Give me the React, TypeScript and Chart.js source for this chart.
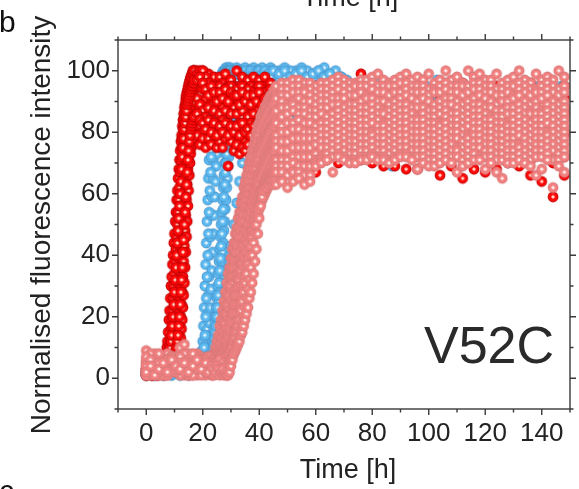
import React, { useEffect, useRef } from 'react';
import { Chart, registerables } from 'chart.js';

Chart.register(...registerables);

const FONT = '"Liberation Sans", Arial, Helvetica, sans-serif';

// ---------- axes / text ----------
const xMin = -10;
const xMax = 150;
const yMin = -10;
const yMax = 110;
const tickStep = 10;
const labelStep = 20;
const xLabelMax = 140;
const yLabelMax = 100;
const xTitle = 'Time [h]';
const yTitle = 'Normalised fluorescence intensity';
const panelName = 'V52C';
const panelLetter = 'b';
const nextPanelLetter = 'c';

// ---------- red replicates (time grid + traces) ----------
const redTimes = [
  0, 2, 4, 6,
  6.5, 6.75, 7, 7.25, 7.5, 7.75, 8, 8.25, 8.5, 8.75, 9,
  9.25, 9.5, 9.75, 10, 10.25, 10.5, 10.75, 11, 11.25, 11.5, 11.75,
  12, 12.25, 12.5, 12.75, 13, 13.25, 13.5, 13.75, 14, 14.25, 14.5,
  14.75, 15, 15.25, 15.5, 15.75, 16, 16.25, 16.5, 16.75, 17,
  18, 19, 20, 21, 22, 23, 24, 25, 26, 27, 28, 29, 30, 31,
  32, 33, 34, 35, 36, 37, 38, 39, 40, 41, 42, 43, 44,
  48, 52, 56, 60, 64, 68, 72, 76, 80, 84, 88, 92, 96,
  100, 104, 108, 112, 116, 120, 124, 128, 132, 136, 140, 144, 148,
];
const redTrace1 = [
  2, 1, 3, 2,
  4, 6, 8, 10, 12, 15, 19, 22, 26, 30, 33,
  37, 40, 44, 47, 51, 54, 58, 61, 65, 68, 71,
  74, 77, 79, 82, 84, 86, 88, 89, 91, 92, 93,
  94, 95, 96, 97, 97, 98, 99, 99, 100, 100,
  100, 98, 100, 97, 99, 96, 98, 95, 98, 96, 99, 95, 97, 95,
  100, 95, 98, 94, 97, 95, 98, 94, 97, 95, 98, 94, 96,
  94, 95, 93, 95, 94, 96, 93, 99, 95, 94, 93, 95, 94,
  93, 95, 94, 96, 93, 94, 95, 93, 94, 96, 93, 94, 95,
];
const redTrace2 = [
  1, 3, 2, 4,
  3, 5, 4, 6, 5, 7, 9, 11, 13, 16, 19,
  22, 26, 30, 34, 38, 42, 46, 50, 54, 58, 62,
  67, 71, 75, 78, 81, 84, 86, 88, 90, 92, 93,
  94, 95, 96, 97, 98, 98, 99, 100, 99, 100,
  99, 100, 100, 98, 96, 93, 95, 92, 95, 91, 94, 92, 95, 91,
  94, 91, 95, 92, 94, 90, 93, 91, 95, 90, 93, 92, 94,
  91, 92, 90, 93, 91, 92, 90, 91, 93, 92, 90, 91, 92,
  90, 92, 91, 93, 90, 91, 92, 90, 91, 93, 90, 92, 91,
];
const redTrace3 = [
  3, 2, 1, 3,
  2, 4, 3, 5, 4, 6, 5, 7, 6, 8, 9,
  11, 13, 16, 19, 23, 27, 31, 35, 39, 43, 47,
  52, 56, 60, 64, 68, 72, 75, 78, 81, 83, 85,
  87, 88, 89, 90, 91, 92, 92, 93, 94, 94,
  95, 96, 94, 91, 93, 89, 91, 87, 90, 88, 91, 87, 90, 88,
  91, 87, 90, 88, 91, 86, 89, 87, 90, 86, 89, 88, 90,
  88, 87, 89, 86, 88, 87, 89, 88, 86, 87, 88, 86, 87,
  88, 86, 87, 89, 86, 88, 87, 86, 88, 87, 85, 87, 86,
];
const redTrace4 = [
  2, 3, 1, 2,
  3, 2, 4, 3, 5, 4, 3, 5, 4, 6, 5,
  6, 7, 6, 8, 9, 11, 12, 15, 18, 21, 25,
  29, 33, 37, 42, 46, 51, 56, 61, 66, 70, 74,
  77, 80, 82, 84, 86, 87, 88, 89, 90, 90,
  91, 89, 87, 85, 88, 84, 87, 83, 86, 84, 87, 83, 86, 82,
  86, 83, 87, 82, 85, 83, 86, 82, 85, 83, 86, 82, 84,
  83, 82, 84, 81, 83, 82, 80, 83, 82, 81, 83, 82, 80,
  82, 81, 83, 80, 82, 81, 83, 80, 82, 81, 79, 82, 80,
];
const redTrace5 = [
  1, 2, 3, 2,
  2, 3, 4, 2, 3, 5, 4, 3, 5, 4, 6,
  5, 4, 6, 5, 7, 6, 8, 9, 10, 12, 14,
  17, 20, 24, 28, 33, 38, 43, 48, 53, 58, 63,
  68, 72, 75, 77, 79, 80, 81, 82, 83, 82,
  84, 82, 80, 83, 79, 82, 80, 78, 82, 79, 81, 78, 81, 79,
  80, 78, 81, 77, 80, 78, 81, 77, 79, 78, 80, 76, 79,
  78, 77, 79, 76, 77, 75, 78, 74, 76, 73, 75, 74, 76,
  73, 75, 74, 72, 74, 73, 75, 72, 74, 71, 73, 70, 72,
];
const redTrace6 = [
  2, 1, 2, 3,
  1, 3, 2, 4, 3, 2, 4, 3, 5, 4, 3,
  5, 4, 6, 5, 4, 6, 5, 7, 6, 8, 9,
  11, 13, 16, 19, 23, 27, 31, 36, 41, 46, 51,
  56, 61, 66, 70, 73, 75, 76, 77, 78, 78,
  79, 76, 78, 75, 78, 76, 79, 75, 77, 75, 78, 69, 77, 74,
  76, 73, 75, 74, 76, 72, 75, 73, 74, 72, 75, 72, 74,
  74, 72, 70, 67, 71, 70, 72, 71, 70, 69, 69, 68, 68,
  70, 66, 69, 65, 68, 67, 68, 70, 69, 66, 64, 59, 66,
];
const redTrace7 = [
  1, 2, 4, 2,
  3, 2, 4, 5, 4, 6, 7, 8, 10, 12, 14,
  17, 20, 24, 28, 32, 36, 40, 44, 48, 52, 56,
  60, 64, 68, 72, 75, 78, 81, 83, 85, 87, 89,
  90, 91, 92, 93, 94, 95, 95, 96, 96, 97,
  97, 98, 96, 94, 92, 95, 93, 90, 93, 91, 94, 90, 93, 92,
  92, 89, 93, 90, 92, 89, 92, 90, 93, 89, 91, 90, 92,
  89, 90, 88, 91, 89, 90, 88, 89, 91, 90, 88, 89, 90,
  89, 88, 90, 89, 91, 88, 90, 89, 88, 90, 89, 91, 88,
];
const redTrace8 = [
  3, 1, 2, 3,
  2, 4, 3, 2, 4, 3, 5, 4, 6, 5, 4,
  6, 5, 7, 6, 8, 9, 10, 12, 14, 17, 20,
  24, 28, 32, 36, 41, 45, 50, 54, 59, 63, 67,
  71, 74, 77, 79, 81, 82, 83, 84, 85, 85,
  86, 84, 83, 81, 84, 80, 83, 79, 82, 80, 83, 79, 82, 80,
  82, 79, 83, 80, 81, 79, 82, 80, 83, 78, 81, 80, 82,
  81, 79, 80, 78, 81, 79, 80, 77, 79, 78, 80, 77, 79,
  78, 80, 77, 79, 78, 76, 79, 77, 78, 76, 78, 77, 79,
];

// ---------- blue replicates ----------
const blueTimes = [
  0, 3, 6, 9, 12, 15, 17, 18, 19,
  19.5, 19.75, 20, 20.25, 20.5, 20.75, 21, 21.25, 21.5, 21.75, 22,
  22.25, 22.5, 22.75, 23, 23.25, 23.5, 23.75, 24, 24.25, 24.5, 24.75,
  25, 25.25, 25.5, 25.75, 26, 26.25, 26.5, 26.75, 27, 27.25, 27.5,
  27.75, 28, 28.25, 28.5, 28.75, 29, 29.25, 29.5, 29.75, 30,
  31, 32, 33, 34, 35, 36, 37, 38, 39, 40, 41, 42, 43, 44, 45,
  47, 49, 51, 53, 55, 57, 59, 61, 63, 65, 67, 69, 71,
  75, 79, 83, 87, 91, 95, 99, 103, 107, 111, 115, 119, 123, 127, 131, 135, 139, 143, 147,
];
const blueTrace1 = [
  2, 3, 1, 2, 3, 2, 4, 3, 5,
  7, 9, 12, 17, 23, 30, 37, 44, 51, 58, 65,
  71, 76, 80, 83, 86, 88, 90, 91, 92, 93, 94,
  95, 95, 96, 97, 97, 98, 98, 99, 99, 100, 99,
  100, 100, 101, 100, 100, 101, 100, 100, 101, 100,
  100, 101, 100, 100, 101, 100, 99, 101, 100, 100, 101, 99, 100, 101, 100,
  100, 101, 99, 100, 101, 100, 99, 100, 101, 99, 100, 98, 97,
  96, 97, 95, 96, 94, 96, 95, 97, 96, 94, 95, 96, 94, 95, 96, 94, 95, 93, 95,
];
const blueTrace2 = [
  1, 2, 3, 1, 2, 4, 3, 2, 4,
  3, 5, 4, 6, 5, 7, 9, 12, 16, 21, 27,
  33, 40, 46, 53, 59, 65, 71, 76, 80, 84, 87,
  89, 91, 92, 93, 94, 95, 96, 96, 97, 97, 98,
  98, 99, 98, 99, 99, 100, 99, 98, 99, 100,
  99, 98, 100, 99, 98, 99, 100, 98, 99, 100, 98, 99, 98, 100, 99,
  98, 99, 100, 98, 99, 97, 98, 99, 97, 98, 96, 97, 95,
  94, 93, 95, 92, 94, 93, 91, 93, 92, 94, 93, 91, 92, 90, 92, 93, 91, 92, 90,
];
const blueTrace3 = [
  2, 1, 3, 2, 1, 3, 2, 4, 3,
  4, 3, 5, 4, 6, 5, 4, 6, 7, 9, 11,
  14, 18, 23, 29, 35, 41, 47, 53, 59, 64, 69,
  73, 77, 80, 83, 85, 87, 89, 90, 91, 92, 93,
  94, 94, 95, 96, 96, 97, 97, 98, 97, 98,
  98, 97, 99, 98, 97, 98, 99, 97, 98, 96, 98, 97, 99, 98, 97,
  97, 98, 96, 97, 98, 96, 97, 95, 96, 97, 95, 96, 94,
  93, 94, 92, 93, 91, 92, 94, 91, 93, 92, 90, 92, 91, 93, 90, 91, 92, 89, 91,
];
const blueTrace4 = [
  1, 3, 2, 1, 2, 3, 2, 3, 4,
  3, 5, 4, 3, 5, 4, 6, 5, 4, 6, 5,
  7, 6, 8, 9, 11, 12, 14, 16, 18, 20, 23,
  26, 30, 34, 38, 42, 46, 50, 54, 58, 62, 66,
  70, 73, 76, 79, 81, 83, 85, 86, 87, 88,
  90, 92, 93, 94, 95, 94, 96, 95, 94, 96, 95, 94, 96, 95, 94,
  95, 93, 94, 96, 94, 95, 93, 94, 92, 94, 93, 92, 93,
  91, 92, 90, 89, 91, 90, 88, 90, 89, 91, 88, 90, 89, 87, 89, 88, 90, 87, 89,
];
const blueTrace5 = [
  2, 1, 2, 3, 1, 2, 3, 4, 3,
  4, 3, 5, 4, 3, 5, 4, 6, 5, 4, 6,
  5, 7, 6, 8, 7, 9, 8, 10, 11, 12, 14,
  16, 19, 22, 25, 28, 31, 35, 38, 41, 44, 48,
  51, 55, 58, 62, 65, 69, 72, 75, 78, 80,
  85, 88, 90, 91, 92, 93, 92, 94, 93, 92, 94, 93, 92, 93, 91,
  92, 90, 91, 93, 91, 90, 92, 89, 91, 90, 88, 90, 89,
  88, 87, 89, 86, 87, 86, 85, 88, 86, 87, 85, 86, 84, 86, 85, 83, 85, 84, 86,
];
const blueTrace6 = [
  1, 2, 3, 2, 4, 3, 2, 3, 4,
  3, 4, 5, 3, 4, 6, 5, 4, 6, 5, 7,
  6, 5, 7, 6, 8, 7, 9, 8, 10, 9, 11,
  9, 10, 11, 12, 13, 14, 15, 17, 18, 20, 22,
  24, 26, 28, 30, 32, 34, 36, 38, 40, 43,
  50, 57, 64, 70, 75, 80, 83, 85, 87, 88, 89, 88, 90, 89, 88,
  89, 87, 88, 86, 88, 87, 85, 87, 86, 84, 86, 85, 84,
  83, 85, 82, 69, 84, 82, 83, 81, 83, 82, 80, 82, 81, 83, 80, 82, 81, 79, 81,
];
const blueTrace7 = [
  2, 1, 3, 2, 4, 1, 3, 2, 4,
  5, 4, 6, 7, 10, 14, 20, 26, 33, 40, 47,
  54, 61, 67, 72, 77, 81, 84, 86, 88, 90, 91,
  92, 93, 94, 94, 95, 96, 96, 97, 97, 98, 98,
  99, 98, 99, 100, 99, 100, 99, 100, 100, 99,
  100, 99, 100, 98, 100, 99, 100, 99, 98, 100, 99, 100, 99, 98, 100,
  99, 100, 98, 99, 100, 98, 99, 100, 98, 99, 97, 98, 96,
  95, 94, 96, 93, 95, 94, 92, 94, 93, 95, 94, 92, 93, 91, 93, 94, 92, 93, 91,
];
const blueTrace8 = [
  3, 2, 1, 3, 2, 4, 3, 2, 3,
  4, 5, 3, 4, 6, 5, 4, 3, 5, 6, 4,
  5, 6, 7, 6, 8, 9, 10, 11, 13, 15, 17,
  20, 23, 27, 31, 35, 39, 43, 47, 51, 55, 59,
  63, 67, 70, 73, 76, 78, 80, 82, 84, 85,
  88, 90, 91, 92, 93, 92, 94, 93, 92, 94, 93, 92, 94, 92, 93,
  93, 92, 94, 92, 93, 91, 92, 93, 91, 92, 90, 91, 92,
  90, 89, 91, 88, 90, 89, 87, 89, 88, 90, 87, 89, 88, 86, 88, 87, 89, 86, 88,
];

// ---------- salmon replicates ----------
const salmonTimes = [
  0, 1.5, 3, 4.5, 6, 7.5, 9, 10.5, 12, 13.5, 15, 16.5, 18, 19.5,
  21, 22, 23,
  23.5, 24, 24.5, 25, 25.5, 26, 26.5, 27, 27.5, 28, 28.5, 29,
  29.5, 30, 30.5, 31, 31.5, 32, 32.5, 33, 33.5, 34, 34.5, 35,
  35.5, 36, 36.5, 37, 37.5, 38, 38.5, 39, 39.5, 40, 40.5, 41,
  41.5, 42, 42.5, 43, 43.5, 44, 44.5, 45, 45.5, 46,
  48, 50, 52, 54, 56, 58, 60, 62, 64, 66, 68, 70, 72, 74, 76, 78, 80, 82, 84, 86, 88, 90, 92, 94, 96,
  98, 100, 102, 104, 106, 108, 110, 112, 114, 116, 118, 120, 122, 124, 126, 128, 130, 132, 134, 136, 138, 140, 142, 144, 146, 148,
];
const salmonTrace1 = [
  9, 3, 2, 4, 1, 3, 5, 2, 4, 3, 1, 4, 2, 5,
  3, 6, 4,
  6, 8, 10, 12, 14, 17, 19, 22, 25, 28, 31, 34,
  36, 39, 42, 44, 47, 49, 52, 54, 57, 59, 62, 64,
  66, 68, 70, 72, 74, 76, 78, 80, 82, 83, 85, 86,
  87, 88, 89, 90, 91, 92, 92, 93, 94, 95,
  96, 96, 97, 97, 96, 96, 95, 96, 96, 97, 98, 97, 96, 96, 97, 97, 98, 99, 97, 96, 97, 98, 99, 97, 98,
  97, 99, 96, 97, 100, 97, 98, 96, 100, 98, 99, 97, 97, 99, 96, 97, 98, 100, 97, 96, 99, 97, 98, 97, 100, 98,
];
const salmonTrace11 = [
  3, 7, 2, 5, 1, 8, 3, 5, 2, 7, 4, 1, 8, 3,
  4, 2, 5,
  4, 6, 8, 10, 12, 14, 16, 19, 21, 24, 27, 30,
  33, 36, 39, 42, 44, 47, 49, 52, 54, 57, 59, 61,
  63, 66, 68, 70, 72, 74, 76, 78, 79, 81, 83, 84,
  85, 86, 87, 88, 89, 90, 90, 91, 91, 92,
  94, 94, 95, 95, 94, 94, 93, 94, 94, 95, 96, 95, 94, 95, 95, 95, 96, 95, 95, 95, 95, 96, 96, 95, 95,
  95, 94, 94, 95, 96, 95, 95, 95, 95, 96, 96, 95, 95, 94, 94, 95, 95, 96, 95, 94, 94, 95, 96, 95, 94, 95,
];
const salmonTrace2 = [
  4, 2, 5, 3, 6, 2, 4, 7, 3, 5, 2, 6, 3, 4,
  5, 3, 6,
  5, 7, 6, 8, 9, 11, 13, 15, 18, 21, 24, 27,
  30, 33, 36, 39, 41, 44, 47, 49, 52, 54, 57, 59,
  61, 64, 66, 68, 70, 72, 74, 76, 77, 79, 81, 82,
  83, 84, 85, 86, 87, 88, 89, 89, 90, 91,
  92, 92, 93, 93, 93, 92, 91, 92, 92, 93, 94, 93, 92, 92, 93, 92, 94, 93, 93, 92, 93, 93, 94, 93, 93,
  93, 92, 93, 93, 94, 93, 93, 92, 93, 94, 94, 93, 93, 92, 92, 93, 92, 94, 93, 92, 93, 93, 94, 93, 92, 93,
];
const salmonTrace3 = [
  1, 5, 3, 6, 2, 4, 3, 6, 8, 2, 5, 3, 6, 2,
  4, 2, 5,
  3, 5, 4, 6, 7, 8, 10, 12, 14, 17, 20, 23,
  26, 29, 32, 35, 37, 40, 42, 45, 47, 50, 52, 55,
  57, 60, 62, 64, 66, 68, 70, 72, 74, 75, 77, 78,
  79, 80, 81, 82, 83, 84, 85, 86, 86, 87,
  90, 89, 90, 91, 90, 90, 89, 90, 90, 91, 91, 91, 89, 89, 90, 91, 91, 90, 90, 89, 90, 91, 92, 91, 90,
  91, 90, 89, 90, 91, 91, 90, 89, 90, 91, 92, 91, 90, 89, 90, 90, 91, 92, 90, 89, 90, 91, 92, 90, 89, 90,
];
const salmonTrace12 = [
  5, 3, 8, 6, 4, 2, 7, 3, 6, 1, 8, 2, 5, 7,
  6, 4, 7,
  4, 3, 5, 6, 7, 9, 11, 13, 15, 18, 21, 24,
  27, 30, 33, 36, 38, 41, 43, 46, 48, 51, 53, 56,
  58, 60, 62, 64, 66, 68, 70, 71, 73, 74, 75, 76,
  77, 78, 79, 79, 80, 81, 82, 82, 83, 84,
  88, 88, 89, 88, 88, 87, 87, 88, 88, 89, 89, 88, 87, 87, 88, 88, 89, 88, 87, 87, 88, 89, 89, 88, 88,
  88, 87, 87, 88, 89, 89, 88, 87, 88, 89, 89, 88, 88, 87, 87, 88, 88, 89, 88, 87, 88, 87, 89, 88, 87, 88,
];
const salmonTrace4 = [
  6, 2, 4, 1, 5, 3, 7, 4, 2, 6, 3, 5, 1, 4,
  2, 5, 3,
  5, 4, 6, 5, 7, 8, 9, 10, 12, 14, 16, 19,
  22, 25, 28, 31, 33, 36, 38, 41, 43, 46, 48, 51,
  53, 56, 58, 60, 62, 64, 66, 68, 70, 71, 73, 74,
  75, 76, 77, 78, 79, 80, 81, 82, 82, 83,
  85, 86, 87, 86, 86, 85, 85, 86, 85, 86, 87, 86, 85, 85, 86, 86, 87, 86, 86, 85, 86, 87, 87, 86, 85,
  86, 85, 85, 86, 87, 86, 86, 85, 86, 87, 87, 86, 85, 85, 85, 86, 86, 87, 86, 86, 86, 86, 87, 86, 85, 86,
];
const salmonTrace5 = [
  3, 5, 1, 4, 2, 6, 3, 5, 10, 4, 2, 5, 3, 6,
  3, 5, 4,
  2, 4, 3, 5, 4, 6, 7, 8, 9, 11, 13, 15,
  18, 21, 24, 27, 29, 32, 34, 37, 39, 42, 44, 47,
  49, 52, 54, 56, 58, 60, 62, 64, 66, 67, 69, 70,
  71, 72, 73, 74, 75, 76, 77, 78, 78, 79,
  82, 83, 83, 84, 83, 83, 82, 83, 83, 84, 85, 84, 83, 83, 84, 84, 85, 84, 83, 83, 84, 85, 85, 84, 84,
  84, 83, 83, 83, 85, 84, 84, 83, 84, 85, 85, 84, 84, 83, 83, 83, 84, 85, 84, 83, 84, 84, 85, 84, 83, 84,
];
const salmonTrace13 = [
  2, 8, 3, 1, 6, 4, 7, 6, 3, 8, 1, 4, 7, 6,
  3, 7, 1,
  2, 4, 3, 5, 6, 5, 7, 8, 9, 10, 12, 14,
  16, 19, 21, 24, 27, 29, 32, 35, 37, 40, 43, 45,
  48, 50, 53, 55, 57, 59, 61, 63, 64, 66, 67, 68,
  69, 70, 71, 72, 73, 74, 75, 76, 76, 77,
  80, 80, 81, 81, 80, 80, 80, 81, 81, 82, 83, 82, 81, 81, 82, 82, 83, 82, 82, 81, 82, 83, 83, 82, 82,
  82, 81, 81, 82, 83, 82, 82, 81, 82, 83, 83, 82, 82, 81, 81, 82, 82, 83, 82, 81, 82, 82, 83, 82, 81, 82,
];
const salmonTrace6 = [
  2, 4, 6, 3, 5, 1, 4, 2, 5, 11, 3, 6, 4, 2,
  5, 2, 4,
  4, 3, 5, 4, 6, 5, 7, 6, 8, 9, 10, 11,
  13, 15, 18, 21, 24, 27, 30, 32, 35, 37, 40, 42,
  45, 47, 50, 52, 54, 56, 58, 60, 62, 63, 65, 66,
  67, 68, 69, 70, 71, 72, 73, 74, 74, 75,
  77, 77, 78, 78, 78, 78, 78, 79, 79, 80, 81, 80, 79, 79, 80, 80, 80, 80, 80, 79, 80, 81, 81, 80, 80,
  80, 79, 79, 80, 81, 80, 80, 79, 79, 81, 81, 80, 80, 79, 79, 80, 80, 81, 80, 79, 80, 80, 80, 80, 79, 80,
];
const salmonTrace7 = [
  5, 1, 3, 6, 4, 2, 5, 3, 1, 4, 6, 2, 5, 3,
  1, 4, 2,
  3, 5, 2, 4, 3, 5, 4, 6, 5, 7, 8, 9,
  10, 11, 13, 15, 18, 21, 24, 27, 30, 33, 36, 39,
  41, 44, 46, 48, 50, 52, 54, 56, 58, 60, 61, 62,
  63, 64, 65, 66, 67, 68, 69, 70, 71, 71,
  74, 74, 75, 75, 75, 75, 76, 77, 77, 78, 79, 78, 77, 77, 78, 78, 79, 78, 78, 77, 78, 79, 79, 78, 78,
  78, 77, 77, 78, 79, 78, 78, 77, 78, 79, 79, 78, 78, 77, 77, 78, 78, 79, 78, 77, 78, 78, 79, 78, 77, 78,
];
const salmonTrace14 = [
  7, 2, 4, 8, 1, 3, 6, 2, 7, 3, 5, 8, 4, 1,
  2, 7, 6,
  5, 3, 4, 2, 5, 3, 4, 6, 4, 5, 6, 7,
  8, 10, 11, 13, 15, 17, 19, 21, 24, 27, 30, 33,
  36, 39, 42, 45, 48, 51, 53, 55, 57, 59, 60, 61,
  62, 63, 64, 65, 65, 66, 66, 67, 67, 68,
  71, 71, 72, 72, 72, 72, 73, 75, 75, 76, 77, 76, 75, 75, 76, 76, 77, 76, 76, 75, 76, 77, 77, 76, 76,
  76, 75, 75, 76, 77, 76, 75, 75, 76, 77, 77, 76, 76, 75, 75, 76, 76, 76, 76, 75, 76, 76, 77, 76, 75, 76,
];
const salmonTrace8 = [
  1, 3, 5, 2, 4, 6, 2, 4, 3, 5, 1, 3, 6, 4,
  6, 3, 5,
  1, 3, 5, 2, 4, 3, 5, 4, 6, 5, 7, 6,
  8, 9, 10, 12, 13, 15, 17, 19, 22, 25, 28, 31,
  34, 37, 40, 43, 46, 48, 50, 52, 54, 56, 58, 59,
  60, 61, 62, 63, 64, 65, 66, 67, 68, 69,
  69, 69, 70, 69, 69, 69, 71, 72, 73, 74, 75, 74, 73, 73, 74, 74, 75, 74, 74, 73, 74, 75, 75, 74, 74,
  74, 73, 73, 74, 75, 74, 74, 73, 74, 75, 75, 74, 74, 73, 73, 74, 74, 75, 74, 73, 74, 74, 75, 74, 73, 74,
];
const salmonTrace9 = [
  4, 6, 2, 5, 3, 1, 6, 3, 5, 2, 4, 1, 3, 5,
  2, 5, 3,
  4, 2, 3, 5, 4, 6, 3, 5, 2, 4, 1, 3,
  5, 6, 7, 8, 9, 11, 12, 14, 16, 18, 20, 23,
  26, 29, 32, 36, 40, 44, 47, 50, 53, 55, 57, 58,
  59, 60, 61, 62, 63, 64, 65, 65, 66, 67,
  67, 66, 67, 67, 66, 66, 70, 71, 71, 72, 73, 72, 71, 71, 72, 72, 73, 72, 72, 71, 72, 73, 73, 72, 72,
  72, 71, 71, 72, 73, 72, 72, 71, 72, 73, 72, 72, 72, 71, 71, 72, 72, 73, 72, 71, 72, 72, 73, 71, 71, 72,
];
const salmonTrace10 = [
  2, 4, 1, 3, 5, 2, 6, 4, 3, 5, 2, 4, 6, 3,
  5, 2, 4,
  3, 1, 2, 4, 3, 1, 2, 3, 1, 2, 1, 1,
  2, 4, 6, 8, 9, 10, 11, 12, 14, 15, 17, 19,
  21, 23, 26, 28, 31, 34, 38, 42, 47, 52, 56, 59,
  61, 62, 62, 63, 63, 64, 64, 63, 64, 63,
  64, 62, 64, 65, 63, 64, 69, 70, 71, 67, 72, 71, 70, 70, 71, 71, 72, 71, 71, 70, 71, 72, 72, 71, 68,
  70, 69, 69, 70, 71, 70, 67, 69, 70, 71, 71, 68, 70, 67, 65, 70, 70, 71, 70, 69, 66, 68, 71, 62, 69, 67,
];

const redTraces = [redTrace1, redTrace2, redTrace3, redTrace4, redTrace5, redTrace6, redTrace7, redTrace8];
const blueTraces = [blueTrace1, blueTrace2, blueTrace3, blueTrace4, blueTrace5, blueTrace6, blueTrace7, blueTrace8];
const salmonTraces = [
  salmonTrace1, salmonTrace11, salmonTrace2, salmonTrace3, salmonTrace12, salmonTrace4, salmonTrace5,
  salmonTrace13, salmonTrace6, salmonTrace7, salmonTrace14, salmonTrace8, salmonTrace9, salmonTrace10,
];

function toPoints(name: string, times: number[], traces: number[][]) {
  const pts: { x: number; y: number }[] = [];
  traces.forEach((tr, k) => {
    if (tr.length !== times.length) {
      throw new Error(`${name} trace ${k + 1}: ${tr.length} values vs ${times.length} times`);
    }
    tr.forEach((y, i) => pts.push({ x: times[i], y }));
  });
  return pts;
}

function makeMarker(edge: string, fill: string, core: string): HTMLCanvasElement {
  const size = 14;
  const c = document.createElement('canvas');
  c.width = size;
  c.height = size;
  const g = c.getContext('2d')!;
  const m = size / 2;
  g.fillStyle = edge;
  g.beginPath();
  g.arc(m, m, 5.4, 0, Math.PI * 2);
  g.fill();
  g.fillStyle = fill;
  g.beginPath();
  g.arc(m, m, 4.6, 0, Math.PI * 2);
  g.fill();
  const grad = g.createRadialGradient(m, m, 0, m, m, 2.1);
  grad.addColorStop(0, core);
  grad.addColorStop(0.55, core);
  grad.addColorStop(1, 'rgba(255,255,255,0)');
  g.fillStyle = grad;
  g.beginPath();
  g.arc(m, m, 2.1, 0, Math.PI * 2);
  g.fill();
  return c;
}

const frameAndText = {
  id: 'frameAndText',
  afterDatasetsDraw(chart: any) {
    const { ctx, chartArea: a, scales } = chart;
    const xs = scales.x;
    const ys = scales.y;
    ctx.save();
    ctx.strokeStyle = '#3a3a3a';
    ctx.lineWidth = 1.4;
    ctx.strokeRect(a.left, a.top, a.right - a.left, a.bottom - a.top);
    ctx.beginPath();
    xs.ticks.forEach((t: any) => {
      const p = xs.getPixelForValue(t.value);
      const len = t.value % labelStep === 0 ? 6 : 3.5;
      ctx.moveTo(p, a.bottom);
      ctx.lineTo(p, a.bottom + len);
      ctx.moveTo(p, a.top);
      ctx.lineTo(p, a.top - len);
    });
    ys.ticks.forEach((t: any) => {
      const p = ys.getPixelForValue(t.value);
      const len = t.value % labelStep === 0 ? 6 : 3.5;
      ctx.moveTo(a.left, p);
      ctx.lineTo(a.left - len, p);
      ctx.moveTo(a.right, p);
      ctx.lineTo(a.right + len, p);
    });
    ctx.stroke();

    ctx.fillStyle = '#222';
    ctx.textAlign = 'center';
    ctx.textBaseline = 'alphabetic';
    ctx.font = `27px ${FONT}`;
    ctx.fillText(xTitle, 348, 478);
    ctx.fillText(xTitle, 350, 6);

    ctx.save();
    ctx.translate(50, 225);
    ctx.rotate(-Math.PI / 2);
    ctx.font = `28px ${FONT}`;
    ctx.fillText(yTitle, 0, 0);
    ctx.restore();

    ctx.fillStyle = '#2a2a2a';
    ctx.textAlign = 'left';
    ctx.font = `52px ${FONT}`;
    ctx.fillText(panelName, 424, 363);

    ctx.fillStyle = '#111';
    ctx.font = `30px ${FONT}`;
    ctx.fillText(panelLetter, -1, 32);
    ctx.fillText(nextPanelLetter, -1, 501);
    ctx.restore();
  },
};

export default function App() {
  const ref = useRef<HTMLCanvasElement>(null);
  useEffect(() => {
    document.body.style.margin = '0';
    const redMarker = makeMarker('#b80000', '#ff0a0a', '#ffdcc6');
    const blueMarker = makeMarker('#4a95cc', '#5cbaf0', '#e4f3fc');
    const salmonMarker = makeMarker('#d67a7a', '#f28080', '#fff2ec');
    const tickFont = { family: FONT, size: 26 };
    const chart = new Chart(ref.current!, {
      type: 'scatter',
      data: {
        datasets: [
          { label: 'salmon', data: toPoints('salmon', salmonTimes, salmonTraces), pointStyle: salmonMarker as any, pointRadius: 5.5, order: 0 },
          { label: 'red', data: toPoints('red', redTimes, redTraces), pointStyle: redMarker as any, pointRadius: 5.5, order: 1 },
          { label: 'blue', data: toPoints('blue', blueTimes, blueTraces), pointStyle: blueMarker as any, pointRadius: 5.5, order: 2 },
        ],
      },
      options: {
        responsive: false,
        animation: false,
        devicePixelRatio: 1,
        events: [],
        layout: { padding: { top: 40, right: 4, bottom: 0, left: 0 } },
        plugins: { legend: { display: false }, tooltip: { enabled: false } },
        scales: {
          x: {
            type: 'linear',
            position: 'bottom',
            min: xMin,
            max: xMax,
            grid: { display: false, drawTicks: false },
            border: { display: false },
            ticks: {
              stepSize: tickStep,
              autoSkip: false,
              maxRotation: 0,
              padding: 9,
              color: '#222',
              font: tickFont,
              callback: (v: any) => (v % labelStep === 0 && v >= 0 && v <= xLabelMax ? String(v) : ''),
            },
            afterFit: (s: any) => { s.height = 80; },
          },
          y: {
            type: 'linear',
            position: 'left',
            min: yMin,
            max: yMax,
            grid: { display: false, drawTicks: false },
            border: { display: false },
            ticks: {
              stepSize: tickStep,
              autoSkip: false,
              padding: 8,
              color: '#222',
              font: tickFont,
              callback: (v: any) => (v % labelStep === 0 && v >= 0 && v <= yLabelMax ? String(v) : ''),
            },
            afterFit: (s: any) => { s.width = 118; },
          },
        },
      },
      plugins: [frameAndText],
    });
    return () => chart.destroy();
  }, []);
  return (
    <div style={{ position: 'absolute', left: 0, top: 0, width: 579, height: 489, background: '#fff' }}>
      <canvas ref={ref} width={579} height={489} style={{ display: 'block', width: 579, height: 489 }} />
    </div>
  );
}
